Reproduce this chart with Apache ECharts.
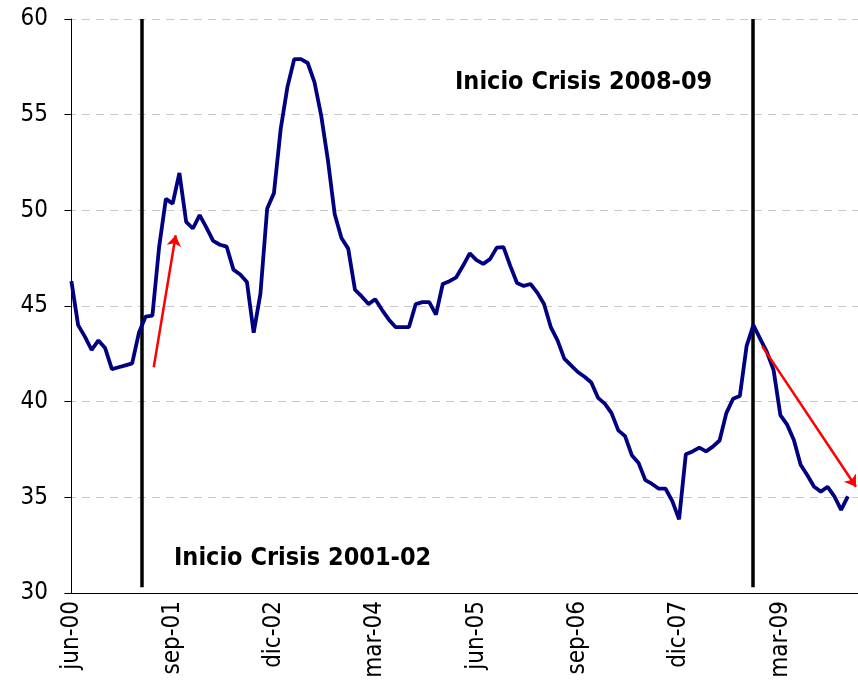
<!DOCTYPE html>
<html>
<head>
<meta charset="utf-8">
<script src="https://cdn.jsdelivr.net/npm/echarts@6/dist/echarts.min.js"></script>
<style>
  html, body { margin: 0; padding: 0; background: #fff; }
  #main { width: 858px; height: 698px; }
</style>
</head>
<body>
<div id="main"></div>
<script>
// meses jun-00 .. feb-10
const monthNames = ['ene', 'feb', 'mar', 'abr', 'may', 'jun', 'jul', 'ago', 'sep', 'oct', 'nov', 'dic'];
const months = [];
for (let k = 0; k < 117; k++) {
  const m = (5 + k) % 12;
  const y = Math.floor((5 + k) / 12);
  months.push(monthNames[m] + '-' + String(y).padStart(2, '0'));
}

// serie mensual
const values = [
  46.3, 44.0, 43.4, 42.7, 43.2, 42.8, 41.7, 41.8, 41.9, 42.0,
  43.6, 44.45, 44.5, 48.1, 50.6, 50.35, 51.95, 49.4, 49.05, 49.75,
  49.1, 48.4, 48.2, 48.1, 46.9, 46.65, 46.25, 43.6, 45.65, 50.1,
  50.9, 54.25, 56.45, 57.9, 57.9, 57.7, 56.7, 54.95, 52.6, 49.8,
  48.55, 48.0, 45.85, 45.5, 45.1, 45.35, 44.8, 44.3, 43.9, 43.9,
  43.9, 45.1, 45.2, 45.2, 44.55, 46.15, 46.3, 46.5, 47.1, 47.75,
  47.4, 47.2, 47.45, 48.05, 48.08, 47.1, 46.2, 46.05, 46.15, 45.7,
  45.1, 43.9, 43.2, 42.25, 41.9, 41.55, 41.3, 41.0, 40.2, 39.9,
  39.4, 38.5, 38.2, 37.2, 36.8, 35.9, 35.7, 35.45, 35.45, 34.8,
  33.85, 37.25, 37.4, 37.6, 37.4, 37.65, 37.97, 39.4, 40.15, 40.3,
  42.9, 44.0, 43.3, 42.6, 41.65, 39.3, 38.8, 38.0, 36.7, 36.15,
  35.55, 35.3, 35.55, 35.05, 34.35, 35.05
];

// lineas verticales de inicio de crisis (posicion en meses desde jun-00)
const crisisX = [10.4, 100.9];
// flechas rojas: [x0, y0, x1, y1]
const arrows = [
  [12.2, 41.8, 15.45, 48.7],
  [102.3, 42.9, 116.2, 35.55]
];
const notes = ['Inicio Crisis 2001-02', 'Inicio Crisis 2008-09'];

const font = '"DejaVu Sans Condensed", "DejaVu Sans", sans-serif';

const myChart = echarts.init(document.getElementById('main'));
myChart.setOption({
  animation: false,
  grid: { left: 68, top: 19, width: 792, bottom: 105, containLabel: false },
  xAxis: [
    {
      type: 'category',
      data: months,
      boundaryGap: true,
      axisLine: { lineStyle: { color: '#000', width: 1 } },
      axisTick: { interval: 14, length: 6, lineStyle: { color: '#000' } },
      axisLabel: {
        interval: 14, rotate: 90, margin: 8,
        fontFamily: font, fontSize: 24, color: '#000'
      },
      splitLine: { show: false }
    },
    { type: 'value', min: -0.5, max: 116.5, show: false }
  ],
  yAxis: {
    type: 'value',
    min: 30, max: 60, interval: 5,
    axisLine: { show: true, lineStyle: { color: '#000', width: 1 } },
    axisTick: { show: true, length: 7, lineStyle: { color: '#000' } },
    axisLabel: { margin: 20, fontFamily: font, fontSize: 24, color: '#000' },
    splitLine: { lineStyle: { type: [8, 6], color: '#c8c8c8', width: 1 } }
  },
  series: [
    {
      type: 'lines',
      coordinateSystem: 'cartesian2d',
      xAxisIndex: 1,
      z: 3,
      lineStyle: { color: '#000', width: 3.5, opacity: 1 },
      data: crisisX.map(x => ({ coords: [[x, 60], [x, 30.3]] }))
    },
    {
      type: 'line',
      data: values,
      symbol: 'none',
      z: 4,
      lineStyle: { color: '#000080', width: 3.8 }
    },
    {
      type: 'lines',
      coordinateSystem: 'cartesian2d',
      xAxisIndex: 1,
      z: 5,
      symbol: ['none', 'arrow'],
      symbolSize: 11,
      lineStyle: { color: '#ff0000', width: 2.5, opacity: 1 },
      data: arrows.map(a => ({ coords: [[a[0], a[1]], [a[2], a[3]]] }))
    }
  ],
  graphic: [
    {
      type: 'text', left: 174, top: 546, z: 10,
      style: { text: notes[0], fontFamily: font, fontWeight: 'bold', fontSize: 25, fill: '#000' }
    },
    {
      type: 'text', left: 455, top: 70, z: 10,
      style: { text: notes[1], fontFamily: font, fontWeight: 'bold', fontSize: 25, fill: '#000' }
    }
  ]
});
</script>
</body>
</html>
